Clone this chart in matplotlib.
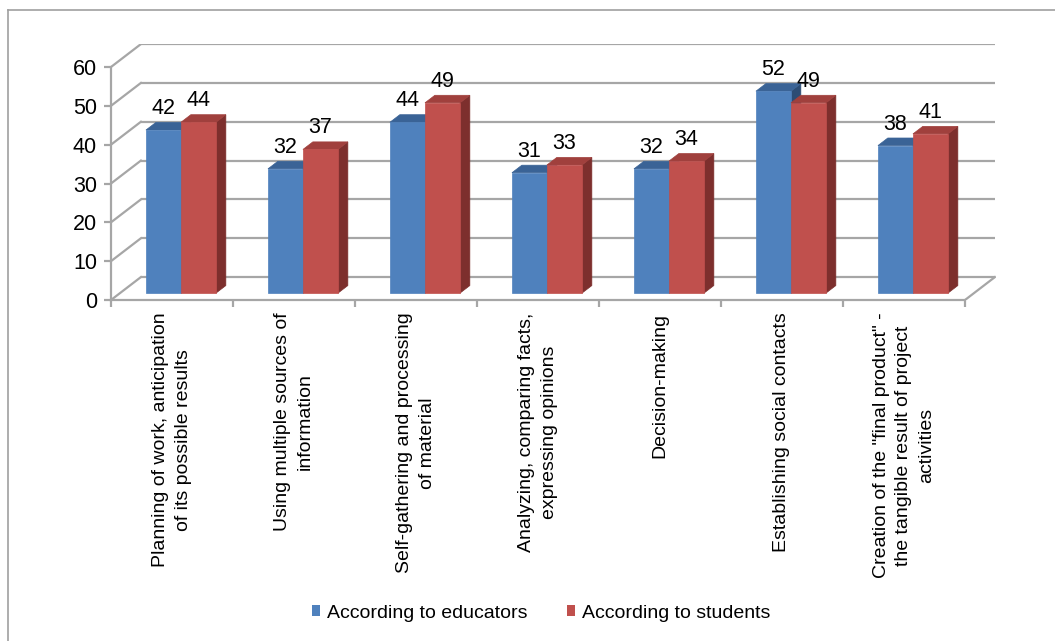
import matplotlib
matplotlib.use('Agg')
import matplotlib.pyplot as plt
from matplotlib.patches import Polygon, Patch
from matplotlib.lines import Line2D

plt.rcParams['font.family'] = ['Liberation Sans', 'DejaVu Sans']

categories = [
    'Planning of work, anticipation\nof its possible results',
    'Using multiple sources of\ninformation',
    'Self-gathering and processing\nof material',
    'Analyzing, comparing facts,\nexpressing opinions',
    'Decision-making',
    'Establishing social contacts',
    'Creation of the "final product" -\nthe tangible result of project\nactivities',
]
educators = [42, 32, 44, 31, 32, 52, 38]
students = [44, 37, 49, 33, 34, 49, 41]
series_names = ['According to educators', 'According to students']

# face colours: front, top, side
blue = ('#4F81BD', '#3A6396', '#2C4C74')
red = ('#C0504D', '#A0403D', '#7D2F2D')
grid_c = '#A6A6A6'

# oblique "3d" depth of the floor in data units
DX = 0.245
DY = 5.9
d0, d1 = 0.30, 0.63   # front/back of bars as fraction of depth
bw = 0.287            # bar width (category units)

fig = plt.figure(figsize=(10.55, 6.41), dpi=100)
W, H = 1055, 641
cat_px, val_px = 122, 233 / 60
ax = fig.add_axes([111 / W, (H - 300) / H, 7.25 * cat_px / W, 66 * val_px / H])
ax.set_xlim(0, 7.25)
ax.set_ylim(0, 66)

# walls + floor
for v in range(0, 61, 10):
    ax.plot([DX, 7 + DX], [v + DY, v + DY], color=grid_c, lw=1.6, zorder=1,
            solid_capstyle='butt')
    ax.plot([0, DX], [v, v + DY], color=grid_c, lw=1.6, zorder=1)
ax.plot([7, 7 + DX], [0, DY], color=grid_c, lw=1.6, zorder=1)


def bar3d(x0, val, cols):
    x1 = x0 + bw
    b = d0 * DY
    ddx, ddy = (d1 - d0) * DX, (d1 - d0) * DY
    side = [(x1, b), (x1 + ddx, b + ddy), (x1 + ddx, val + b + ddy), (x1, val + b)]
    top = [(x0, val + b), (x1, val + b), (x1 + ddx, val + b + ddy), (x0 + ddx, val + b + ddy)]
    front = [(x0, b), (x1, b), (x1, val + b), (x0, val + b)]
    for pts, c in ((side, cols[2]), (top, cols[1]), (front, cols[0])):
        ax.add_patch(Polygon(pts, closed=True, facecolor=c, edgecolor=c, lw=0.5, zorder=3))
    ax.annotate(str(val), (x0 + bw / 2, val + b), xytext=(0, 11.5),
                textcoords='offset points', ha='center', va='baseline',
                fontsize=15.5, zorder=5)


for i in range(len(categories)):
    xb = i + 0.5 - bw + d0 * DX
    bar3d(xb, educators[i], blue)
    bar3d(xb + bw, students[i], red)

# axes
for s in ('top', 'right'):
    ax.spines[s].set_visible(False)
ax.spines['left'].set_bounds(0, 60)
ax.spines['bottom'].set_bounds(0, 7)
for s in ('left', 'bottom'):
    ax.spines[s].set_color(grid_c)
    ax.spines[s].set_linewidth(1.6)
ax.set_yticks(range(0, 61, 10))
ax.tick_params(axis='y', length=5, width=1.6, color=grid_c, labelsize=15.5, pad=5)
ax.set_xticks(range(0, 8))
ax.set_xticklabels([])
ax.set_xticks([i + 0.5 for i in range(7)], minor=True)
ax.set_xticklabels(categories, minor=True, rotation=90, fontsize=14,
                   multialignment='center', linespacing=1.45)
ax.tick_params(axis='x', which='major', length=5, width=1.6, color=grid_c)
ax.tick_params(axis='x', which='minor', length=0, pad=9)
ax.patch.set_alpha(0)

handles = [Patch(facecolor=blue[0]), Patch(facecolor=red[0])]
fig.legend(handles, series_names, loc='center', bbox_to_anchor=(541 / W, 28 / H),
           ncol=2, frameon=False, fontsize=14, handlelength=0.45, handleheight=0.45,
           handletextpad=0.35, columnspacing=2.0)

# outer chart frame (only top and left edges visible)
fig.add_artist(Line2D([8 / W, 1], [1 - 10 / H, 1 - 10 / H], color='#A0A0A0', lw=1.2))
fig.add_artist(Line2D([8 / W, 8 / W], [0, 1 - 10 / H], color='#A0A0A0', lw=1.2))

fig.savefig('out.png', dpi=100)
